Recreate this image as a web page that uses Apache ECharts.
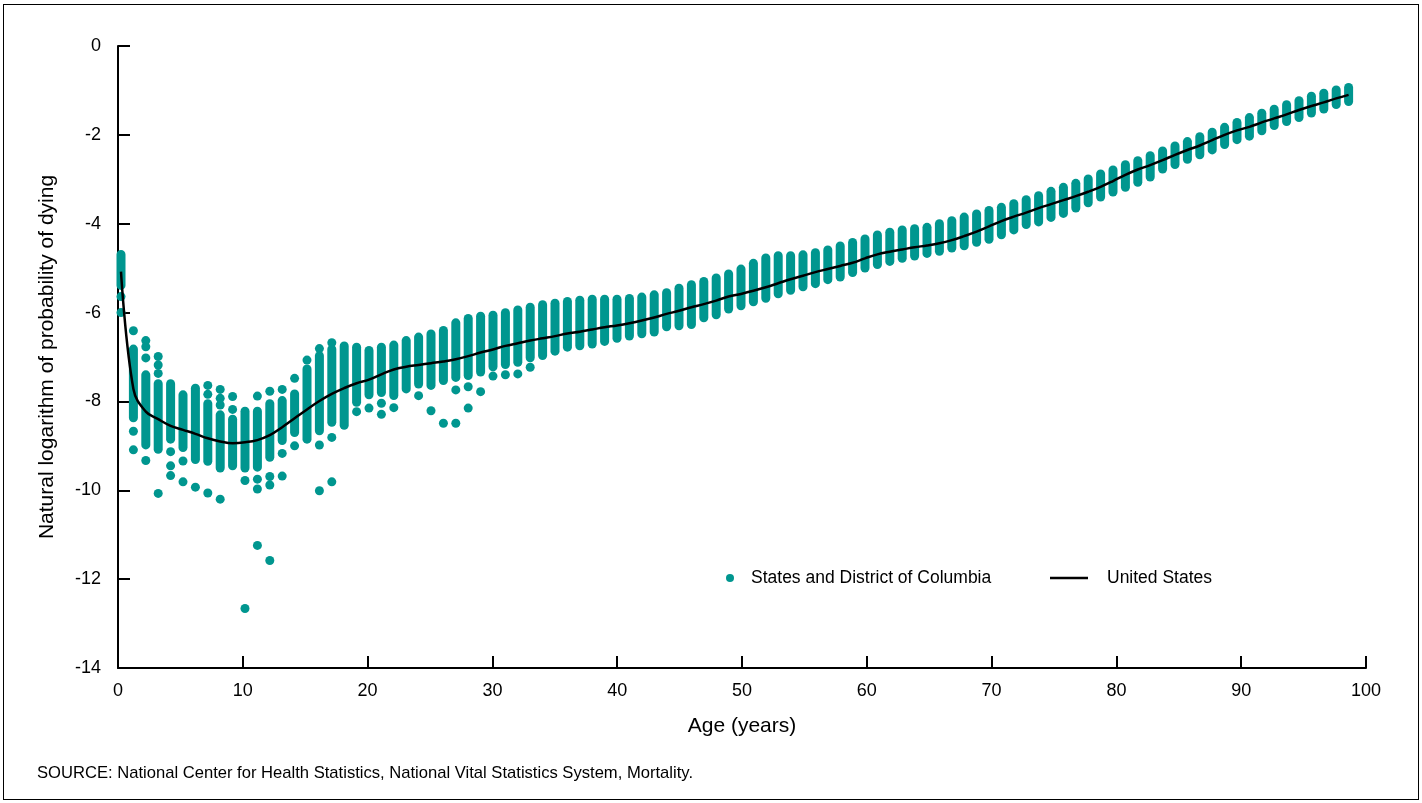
<!DOCTYPE html>
<html>
<head>
<meta charset="utf-8">
<title>Natural logarithm of probability of dying by age</title>
<script src="https://cdn.jsdelivr.net/npm/echarts@6/dist/echarts.min.js"></script>
<style>
  html, body { margin: 0; padding: 0; background: #fff; }
  #wrap { position: relative; width: 1422px; height: 803px; }
  #chart { position: absolute; left: 0; top: 0; width: 1422px; height: 803px; }
  #frame { position: absolute; left: 3px; top: 4px; right: 3px; bottom: 3px; border: 1px solid #000; pointer-events: none; }
</style>
</head>
<body>
<div id="wrap">
  <div id="chart"></div>
  <div id="frame"></div>
</div>
<script>
// ages 0..99
var ages = [];
for (var a = 0; a < 100; a++) ages.push(a);

// dense column of state values per age: upper and lower edge
var stateHigh = [
  -4.59, -6.72, -7.30, -7.50, -7.50, -7.75, -7.60, -7.95, -8.20, -8.30,
  -8.12, -8.12, -7.95, -7.88, -7.73, -7.17, -6.87, -6.72, -6.65, -6.68,
  -6.75, -6.68, -6.63, -6.53, -6.45, -6.38, -6.30, -6.13, -6.03, -5.98,
  -5.96, -5.90, -5.84, -5.78, -5.72, -5.69, -5.65, -5.62, -5.60, -5.60,
  -5.60, -5.58, -5.55, -5.50, -5.45, -5.35, -5.27, -5.20, -5.12, -5.03,
  -4.92, -4.79, -4.67, -4.62, -4.62, -4.60, -4.55, -4.49, -4.40, -4.32,
  -4.24, -4.15, -4.09, -4.04, -4.01, -3.98, -3.90, -3.83, -3.75, -3.68,
  -3.60, -3.53, -3.45, -3.36, -3.27, -3.17, -3.08, -2.99, -2.89, -2.78,
  -2.69, -2.57, -2.48, -2.37, -2.26, -2.15, -2.05, -1.94, -1.84, -1.73,
  -1.62, -1.51, -1.41, -1.32, -1.22, -1.13, -1.03, -0.96, -0.89, -0.83
];
var stateLow = [
  -5.49, -8.47, -9.08, -9.18, -8.95, -9.14, -9.41, -9.45, -9.60, -9.55,
  -9.60, -9.58, -9.36, -8.98, -8.80, -8.95, -8.76, -8.57, -8.64, -8.12,
  -7.95, -7.90, -7.97, -7.82, -7.71, -7.74, -7.63, -7.56, -7.52, -7.44,
  -7.32, -7.27, -7.22, -7.12, -7.07, -6.97, -6.88, -6.85, -6.81, -6.75,
  -6.68, -6.63, -6.58, -6.54, -6.42, -6.40, -6.37, -6.22, -6.15, -6.02,
  -5.95, -5.86, -5.78, -5.68, -5.60, -5.52, -5.45, -5.36, -5.30, -5.20,
  -5.10, -5.02, -4.95, -4.88, -4.83, -4.77, -4.72, -4.65, -4.60, -4.52,
  -4.45, -4.35, -4.24, -4.12, -4.06, -3.96, -3.87, -3.75, -3.63, -3.50,
  -3.39, -3.28, -3.17, -3.05, -2.87, -2.77, -2.65, -2.55, -2.44, -2.32,
  -2.21, -2.13, -2.01, -1.89, -1.80, -1.71, -1.61, -1.52, -1.42, -1.35
];

// single state dots that stand apart from the column [age, value]
var stateOutliers = [
  [0, -5.64], [0, -6.00],
  [1, -6.41], [1, -8.67], [1, -9.09],
  [2, -6.63], [2, -6.77], [2, -7.02], [2, -9.33],
  [3, -6.99], [3, -7.18], [3, -7.37], [3, -10.07],
  [4, -9.13], [4, -9.45], [4, -9.67],
  [5, -9.34], [5, -9.81],
  [6, -9.93],
  [7, -7.64], [7, -7.84], [7, -10.06],
  [8, -7.73], [8, -7.93], [8, -8.08], [8, -10.20],
  [9, -7.89], [9, -8.18],
  [10, -9.78], [10, -12.66],
  [11, -7.88], [11, -9.75], [11, -9.97], [11, -11.24],
  [12, -7.77], [12, -9.69], [12, -9.88], [12, -11.58],
  [13, -7.73], [13, -9.17], [13, -9.68],
  [14, -7.48], [14, -9.00],
  [15, -7.07],
  [16, -6.81], [16, -8.98], [16, -10.01],
  [17, -6.68], [17, -8.81], [17, -9.81],
  [19, -8.23],
  [20, -8.15],
  [21, -8.04], [21, -8.29],
  [22, -8.14],
  [24, -7.87],
  [25, -8.21],
  [26, -8.49],
  [27, -7.74], [27, -8.49],
  [28, -7.67], [28, -8.15],
  [29, -7.78],
  [30, -7.43], [31, -7.40], [32, -7.38], [33, -7.23]
];

// United States
var usValues = [
  -5.08, -7.72, -8.23, -8.40, -8.55, -8.64, -8.73, -8.83, -8.90, -8.94,
  -8.92, -8.87, -8.76, -8.58, -8.38, -8.18, -7.99, -7.83, -7.70, -7.59,
  -7.51, -7.39, -7.28, -7.22, -7.18, -7.14, -7.10, -7.05, -6.98, -6.90,
  -6.83, -6.75, -6.69, -6.63, -6.58, -6.53, -6.47, -6.43, -6.38, -6.33,
  -6.29, -6.24, -6.18, -6.11, -6.03, -5.96, -5.88, -5.81, -5.73, -5.64,
  -5.58, -5.51, -5.43, -5.34, -5.25, -5.17, -5.09, -5.02, -4.95, -4.88,
  -4.78, -4.69, -4.63, -4.58, -4.53, -4.49, -4.44, -4.37, -4.28, -4.18,
  -4.06, -3.94, -3.84, -3.75, -3.65, -3.56, -3.47, -3.38, -3.28, -3.17,
  -3.04, -2.90, -2.78, -2.68, -2.57, -2.45, -2.34, -2.24, -2.12, -2.00,
  -1.90, -1.82, -1.72, -1.63, -1.54, -1.44, -1.35, -1.27, -1.18, -1.10
];

var yTicks = [0, -2, -4, -6, -8, -10, -12, -14];

var TEAL = '#00968f';
var FONT = 'Liberation Sans, Arial, sans-serif';
var DOT = 9;

var columnData = ages.map(function (a, i) { return [a, stateHigh[i], stateLow[i]]; });
var usData = ages.map(function (a, i) { return [a, usValues[i]]; });

var chart = echarts.init(document.getElementById('chart'), null, { renderer: 'canvas' });

chart.setOption({
  animation: false,
  backgroundColor: '#fff',
  textStyle: { fontFamily: FONT, color: '#000' },
  grid: { left: 118, right: 56, top: 46, bottom: 135, containLabel: false },
  xAxis: [{
    type: 'value', min: 0, max: 100, interval: 10, position: 'bottom',
    name: 'Age (years)', nameLocation: 'middle', nameGap: 48,
    nameTextStyle: { fontSize: 21, color: '#000', fontFamily: FONT },
    axisLine: { onZero: false, lineStyle: { color: '#000', width: 2 } },
    axisTick: { inside: true, length: 12, lineStyle: { color: '#000', width: 2 } },
    axisLabel: { fontSize: 18, color: '#000', margin: 14, fontFamily: FONT },
    splitLine: { show: false }
  }, {
    // position axis of the age columns
    type: 'value', min: -0.242, max: 100.403, show: false
  }],
  yAxis: {
    type: 'value', min: -14, max: 0, interval: 2,
    name: 'Natural logarithm of probability of dying', nameLocation: 'middle', nameGap: 60,
    nameTextStyle: { fontSize: 21, color: '#000', fontFamily: FONT },
    axisLine: { onZero: false, lineStyle: { color: '#000', width: 2 } },
    axisTick: { inside: true, length: 12, lineStyle: { color: '#000', width: 2 } },
    axisLabel: { fontSize: 18, color: '#000', margin: 17, fontFamily: FONT,
      formatter: function (v) { return yTicks.indexOf(v) >= 0 ? String(v) : ''; } },
    splitLine: { show: false }
  },
  legend: [{
    data: [{ name: 'States and District of Columbia', icon: 'circle' }],
    left: 721, top: 564, itemWidth: 32, itemHeight: 8,
    textStyle: { fontSize: 17.5, color: '#000', fontFamily: FONT }
  }, {
    data: [{ name: 'United States', icon: 'rect' }],
    left: 1045, top: 564, itemWidth: 38, itemHeight: 2.5,
    textStyle: { fontSize: 17.5, color: '#000', fontFamily: FONT, padding: [0, 0, 0, 14] }
  }],
  series: [{
    name: 'States and District of Columbia',
    type: 'custom',
    xAxisIndex: 1,
    data: columnData,
    encode: { x: 0, y: [1, 2] },
    itemStyle: { color: TEAL },
    renderItem: function (params, api) {
      var top = api.coord([api.value(0), api.value(1)]);
      var bot = api.coord([api.value(0), api.value(2)]);
      return {
        type: 'rect',
        shape: { x: top[0] - DOT / 2, y: top[1], width: DOT, height: Math.max(bot[1] - top[1], DOT), r: DOT / 2 },
        style: { fill: TEAL }
      };
    },
    z: 2
  }, {
    name: 'States and District of Columbia',
    type: 'scatter',
    xAxisIndex: 1,
    data: stateOutliers,
    symbol: 'circle',
    symbolSize: DOT,
    itemStyle: { color: TEAL, opacity: 1 },
    z: 2
  }, {
    name: 'United States',
    type: 'line',
    xAxisIndex: 1,
    data: usData,
    smooth: 0.4,
    showSymbol: false,
    symbol: 'none',
    lineStyle: { color: '#000', width: 2.5 },
    itemStyle: { color: '#000' },
    z: 5
  }],
  graphic: [{
    type: 'text', left: 37, top: 765,
    style: {
      text: 'SOURCE: National Center for Health Statistics, National Vital Statistics System, Mortality.',
      font: '16.6px Liberation Sans, Arial, sans-serif', fill: '#000'
    }
  }]
});
</script>
</body>
</html>
